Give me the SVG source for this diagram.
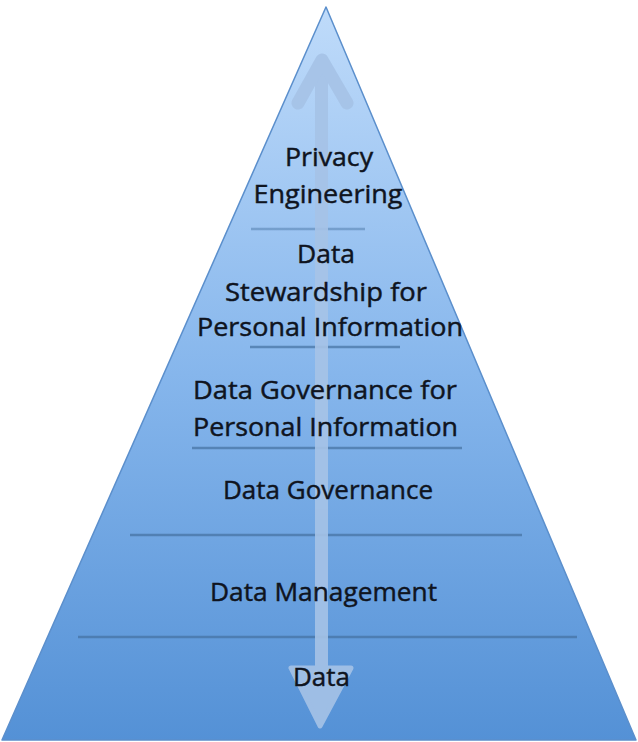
<svg xmlns="http://www.w3.org/2000/svg" width="638" height="742" viewBox="0 0 638 742">
<defs>
<linearGradient id="pyr" gradientUnits="userSpaceOnUse" x1="0" y1="7" x2="0" y2="740">
<stop offset="0" stop-color="#bfdbfa"/>
<stop offset="0.5" stop-color="#86b6ec"/>
<stop offset="1" stop-color="#5491d6"/>
</linearGradient>
<style>
.lbl{font-family:"Open Sans","Liberation Sans",Arial,sans-serif;font-size:26px;fill:#0f1420;stroke:#0f1420;stroke-width:0.45;text-anchor:middle}
.sep{stroke:#44709f;stroke-width:2.5;stroke-opacity:0.7;fill:none}
</style>
</defs>
<rect width="638" height="742" fill="#ffffff"/>
<g id="pyramid">
<polygon points="326,7 2,740 636,740" fill="url(#pyr)" stroke="#5b8fcc" stroke-width="1.5" stroke-linejoin="round"/>
</g>
<g id="separators">
<line class="sep" x1="251" y1="229" x2="365" y2="229" style="stroke-opacity:0.45"/>
<line class="sep" x1="250" y1="347" x2="400" y2="347"/>
<line class="sep" x1="192" y1="448" x2="462" y2="448"/>
<line class="sep" x1="130" y1="535" x2="522" y2="535"/>
<line class="sep" x1="78" y1="637" x2="577" y2="637"/>
</g>
<g id="connectors" opacity="0.9">
<rect x="315" y="62" width="13" height="610" fill="#a6c3e7"/>
<path d="M298,103 L322,60 L347,103" fill="none" stroke="#a6c3e7" stroke-width="13" stroke-linecap="round" stroke-linejoin="round"/>
<path d="M291,668 L351,668 L320,726 Z" fill="#a6c3e7" stroke="#a6c3e7" stroke-width="5" stroke-linejoin="round"/>
</g>
<g id="n-privacy">
<text class="lbl" x="329" y="166" textLength="88" lengthAdjust="spacingAndGlyphs">Privacy</text>
<text class="lbl" x="328" y="203" textLength="149" lengthAdjust="spacingAndGlyphs">Engineering</text>
</g>
<g id="n-stewardship">
<text class="lbl" x="326" y="263" textLength="58" lengthAdjust="spacingAndGlyphs">Data</text>
<text class="lbl" x="326" y="301" textLength="202" lengthAdjust="spacingAndGlyphs">Stewardship for</text>
<text class="lbl" x="330" y="336" textLength="266" lengthAdjust="spacingAndGlyphs">Personal Information</text>
</g>
<g id="n-governance-pi">
<text class="lbl" x="325" y="399" textLength="264" lengthAdjust="spacingAndGlyphs">Data Governance for</text>
<text class="lbl" x="325.5" y="436" textLength="265" lengthAdjust="spacingAndGlyphs">Personal Information</text>
</g>
<g id="n-governance">
<text class="lbl" x="328" y="499" textLength="210" lengthAdjust="spacingAndGlyphs">Data Governance</text>
</g>
<g id="n-management">
<text class="lbl" x="323.5" y="601" textLength="227" lengthAdjust="spacingAndGlyphs">Data Management</text>
</g>
<g id="n-data">
<text class="lbl" x="321.5" y="686" textLength="57" lengthAdjust="spacingAndGlyphs">Data</text>
</g>
</svg>
